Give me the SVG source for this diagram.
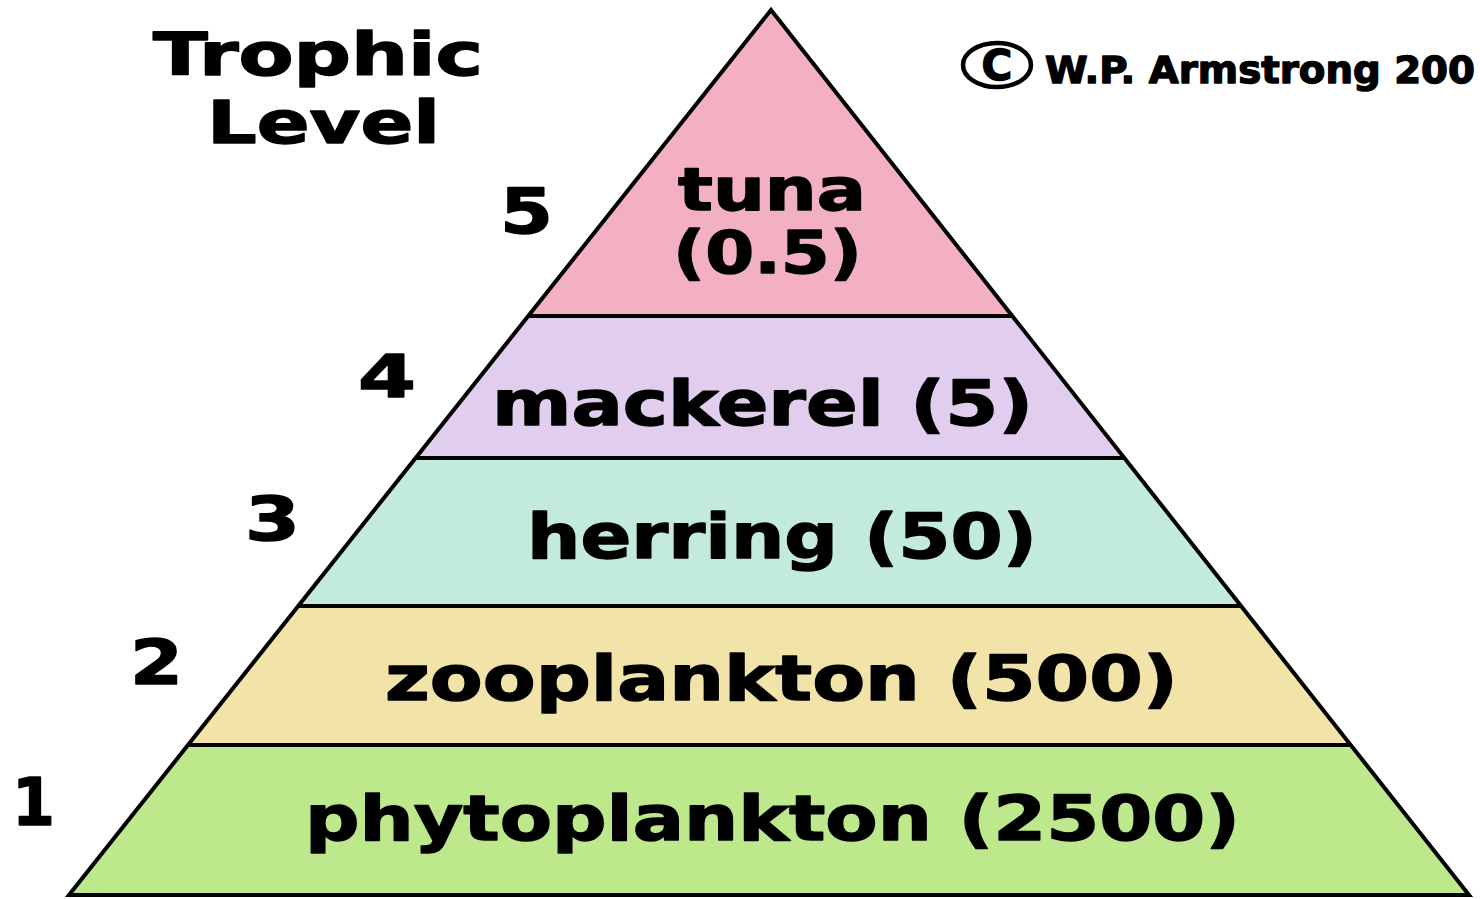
<svg xmlns="http://www.w3.org/2000/svg" width="1480" height="899" viewBox="0 0 1480 899">
<style>
.t{font-family:"DejaVu Sans","Liberation Sans",sans-serif;font-weight:bold;fill:#000;stroke:#000;stroke-width:1.4;stroke-linejoin:round}
.lbl{font-size:62px}
.edge{fill:none;stroke:#000;stroke-width:4;stroke-linejoin:miter}
</style>
<rect width="1480" height="899" fill="#fff"/>
<g id="title">
<text class="t" x="153" y="75" font-size="58" textLength="330" lengthAdjust="spacingAndGlyphs">Trophic</text>
<text class="t" x="207" y="143" font-size="58" textLength="233" lengthAdjust="spacingAndGlyphs">Level</text>
</g>
<g id="copyright">
<ellipse cx="997" cy="65" rx="34" ry="22" fill="none" stroke="#000" stroke-width="4.5"/>
<text class="t" x="997" y="80" font-size="42" text-anchor="middle">C</text>
<text class="t" x="1045" y="83" font-size="38" textLength="430" lengthAdjust="spacingAndGlyphs">W.P. Armstrong 200</text>
</g>
<g id="level1">
<polygon points="188,745 1351,745 1469,895 69,895" fill="#bde98c"/>
<text class="t lbl" x="305" y="840" textLength="935" lengthAdjust="spacingAndGlyphs">phytoplankton (2500)</text>
<text class="t" x="12" y="825" font-size="66" textLength="43" lengthAdjust="spacingAndGlyphs">1</text>
</g>
<g id="level2">
<polygon points="298,606 1241,606 1351,745 188,745" fill="#f2e3a8"/>
<text class="t lbl" x="385" y="700" textLength="793" lengthAdjust="spacingAndGlyphs">zooplankton (500)</text>
<text class="t" x="130" y="684" font-size="62" textLength="53" lengthAdjust="spacingAndGlyphs">2</text>
</g>
<g id="level3">
<polygon points="416,458 1124,458 1241,606 298,606" fill="#c3eade"/>
<text class="t lbl" x="527" y="558" textLength="510" lengthAdjust="spacingAndGlyphs">herring (50)</text>
<text class="t" x="245" y="540" font-size="60" textLength="55" lengthAdjust="spacingAndGlyphs">3</text>
</g>
<g id="level4">
<polygon points="528,316 1012,316 1124,458 416,458" fill="#e1cdee"/>
<text class="t lbl" x="492" y="425" textLength="541" lengthAdjust="spacingAndGlyphs">mackerel (5)</text>
<text class="t" x="358" y="397" font-size="58" textLength="58" lengthAdjust="spacingAndGlyphs">4</text>
</g>
<g id="level5">
<polygon points="771,10 1012,316 528,316" fill="#f3b0c2"/>
<text class="t" x="678" y="210" font-size="58" textLength="188" lengthAdjust="spacingAndGlyphs">tuna</text>
<text class="t" x="673" y="273" font-size="58" textLength="189" lengthAdjust="spacingAndGlyphs">(0.5)</text>
<text class="t" x="500" y="233" font-size="62" textLength="53" lengthAdjust="spacingAndGlyphs">5</text>
</g>
<g id="connectors">
<polygon class="edge" points="771,10 1469,895 69,895"/>
<line class="edge" x1="528" y1="316" x2="1012" y2="316"/>
<line class="edge" x1="416" y1="458" x2="1124" y2="458"/>
<line class="edge" x1="298" y1="606" x2="1241" y2="606"/>
<line class="edge" x1="188" y1="745" x2="1351" y2="745"/>
</g>
</svg>
